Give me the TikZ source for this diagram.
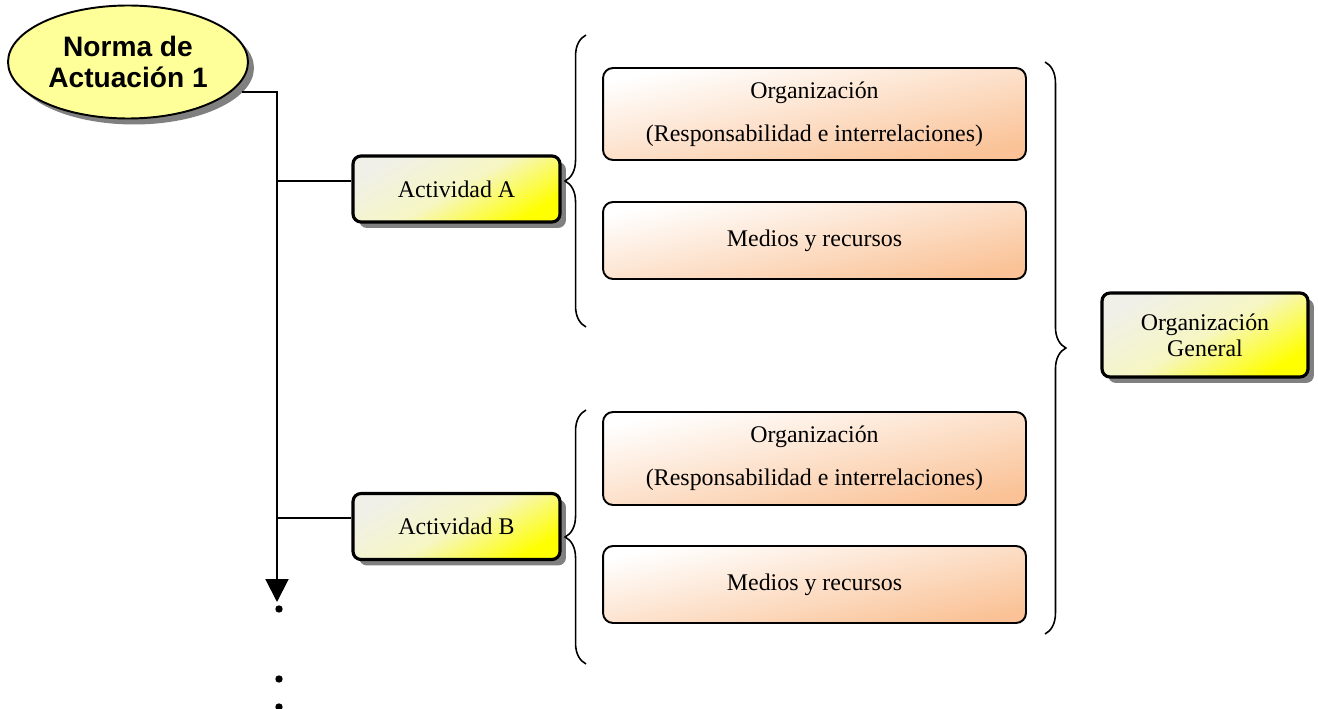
\documentclass[tikz,border=0pt]{standalone}
\usepackage{fontspec}
\setmainfont{Liberation Serif}
\newfontfamily\arialfont{Liberation Sans}
\usetikzlibrary{arrows.meta}
\usetikzlibrary{shapes.geometric}
\usetikzlibrary{shadows}
\usetikzlibrary{decorations.pathreplacing}

\definecolor{normafill}{RGB}{255,255,153}
\definecolor{paleyellow}{RGB}{240,240,232}
\definecolor{midyellow}{RGB}{246,246,196}
\definecolor{deepyellow}{RGB}{255,255,0}
\definecolor{deeporange}{RGB}{250,194,150}
\definecolor{shadowgray}{RGB}{128,128,128}

\begin{document}
\begin{tikzpicture}[x=0.02cm, y=-0.02cm,
  conn/.style={black, line width=1.2pt},
  curly/.style={decorate, decoration={brace, amplitude=11.9pt}, line width=0.9pt},
  actbox/.style={draw, line width=1.8pt, rounded corners=0.16cm, inner sep=0pt,
    minimum width=4.14cm, minimum height=1.32cm,
    top color=paleyellow, bottom color=deepyellow, middle color=midyellow, shading angle=30,
    drop shadow={shadow xshift=0.12cm, shadow yshift=-0.12cm, fill=shadowgray, opacity=1},
    font=\fontsize{13.6}{16}\selectfont},
  tarea/.style={draw, line width=1.1pt, rounded corners=0.2cm, inner sep=0pt,
    minimum width=8.46cm, align=center,
    top color=white, bottom color=deeporange, shading angle=12,
    font=\fontsize{13.6}{24.4}\selectfont}]
\useasboundingbox[fill=white] (0,0) rectangle (1318,709);

% actuacion
\node[ellipse, draw, line width=1.1pt, fill=normafill, minimum width=4.8cm, minimum height=2.26cm,
  inner sep=0pt, align=center, font=\fontsize{16}{17.5}\arialfont\bfseries,
  drop shadow={shadow xshift=0.12cm, shadow yshift=-0.12cm, fill=shadowgray, opacity=1}]
  (norma) at (128,62) {Norma de\\Actuación 1};
\coordinate (spineend) at (277,602);
\draw[conn, -{Triangle[length=13pt, width=13pt]}] ([xshift=0.2cm]norma.-16) -| (spineend);
\foreach \y in {609,679,707}
  \fill (279,\y) circle (2.1pt);

% actividades
\node[actbox] (actA) at (456.5,189) {Actividad A};
\node[actbox] (actB) at (456.5,526.5) {Actividad B};
\path ([yshift=0.16cm]actA.west) coordinate (ja);
\path ([yshift=0.17cm]actB.west) coordinate (jb);
\draw[conn] (ja) -- (ja -| spineend);
\draw[conn] (jb) -- (jb -| spineend);

% tareas
\node[tarea, minimum height=1.84cm] (orgA) at (814.5,114) {Organización\\(Responsabilidad e interrelaciones)};
\node[tarea, minimum height=1.54cm] (medA) at (814.5,240.5) {Medios y recursos};
\node[tarea, minimum height=1.86cm] (orgB) at (814.5,458.5) {Organización\\(Responsabilidad e interrelaciones)};
\node[tarea, minimum height=1.54cm] (medB) at (814.5,584.5) {Medios y recursos};

\draw[curly] (586,327) -- (586,35);
\draw[curly] (586,664) -- (586,410);
\draw[curly] (1045,62) -- (1045,634);

\node[actbox, minimum width=4.12cm, minimum height=1.68cm, align=center,
  font=\fontsize{13.6}{14.7}\selectfont] (orgGen) at (1205,335) {Organización\\General};

\end{tikzpicture}
\end{document}
